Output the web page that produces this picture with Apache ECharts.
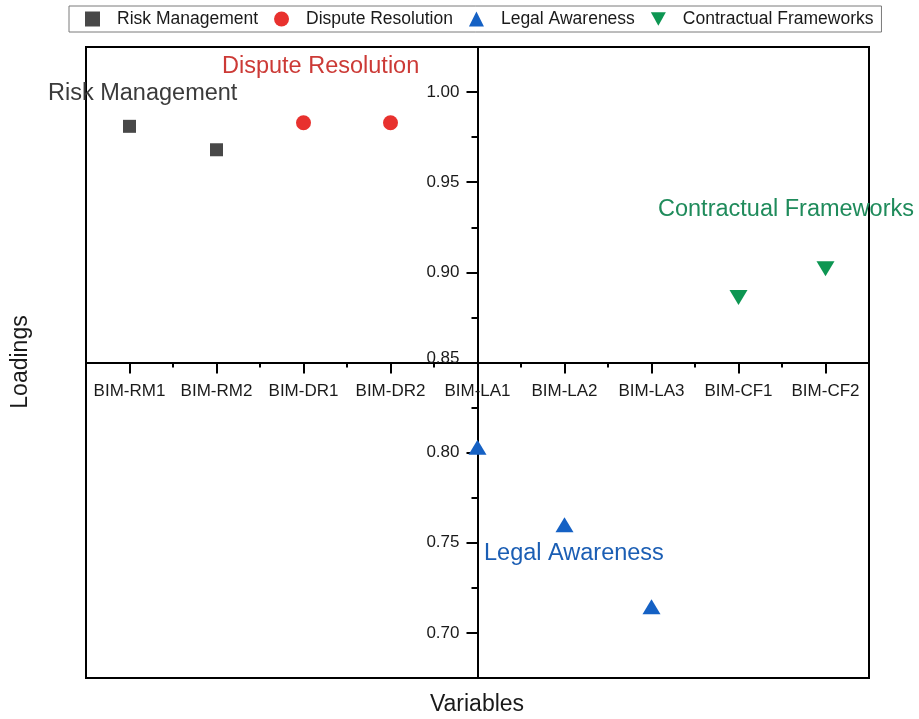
<!DOCTYPE html>
<html>
<head>
<meta charset="utf-8">
<script src="https://cdn.jsdelivr.net/npm/echarts@6/dist/echarts.min.js"></script>
<style>
  html, body { margin: 0; padding: 0; background: #ffffff; }
  #chart { width: 919px; height: 719px; }
</style>
</head>
<body>
<div id="chart"></div>
<script>
// Variables along the horizontal axis
const categories = ['BIM-RM1', 'BIM-RM2', 'BIM-DR1', 'BIM-DR2', 'BIM-LA1', 'BIM-LA2', 'BIM-LA3', 'BIM-CF1', 'BIM-CF2'];

// Factor loadings per construct
const riskManagement = [0.981, 0.968];          // BIM-RM1, BIM-RM2
const disputeResolution = [0.983, 0.983];       // BIM-DR1, BIM-DR2
const legalAwareness = [0.803, 0.760, 0.7145];  // BIM-LA1..LA3
const contractualFrameworks = [0.886, 0.902];   // BIM-CF1, BIM-CF2

// Vertical axis: labelled ticks, minor ticks and extent
const yTickLabels = ['0.70', '0.75', '0.80', '0.85', '0.90', '0.95', '1.00'];
const yMinorTicks = [0.725, 0.775, 0.825, 0.875, 0.925, 0.975];
const yExtent = [0.675, 1.025];
const yCross = 0.85;          // loading where the horizontal axis crosses
const crossCategory = 4;      // BIM-LA1 carries the vertical axis

const FONT = "'Liberation Sans', Arial, Helvetica, sans-serif";
const GRID = { left: 86, right: 50, top: 47, bottom: 41 };

const xExtent = [-0.5, categories.length - 0.5];
const xMajor = categories.map((_, i) => i);
const xMinor = categories.slice(1).map((_, i) => i + 0.5);
const yMajor = yTickLabels.map(Number);

function points(startIndex, values) {
  return values.map((v, i) => [startIndex + i, v]);
}

const el = document.getElementById('chart');
const chart = echarts.init(el, null, { renderer: 'canvas' });

// Axes cross inside the plot: shift them from the grid edges to the crossing point
const gridW = chart.getWidth() - GRID.left - GRID.right;
const gridH = chart.getHeight() - GRID.top - GRID.bottom;
const yAxisOffset = -gridW * (crossCategory - xExtent[0]) / (xExtent[1] - xExtent[0]);
const xAxisOffset = -gridH * (yCross - yExtent[0]) / (yExtent[1] - yExtent[0]);

function yLabel(v) {
  const text = v.toFixed(2);
  if (Math.abs(v - yCross) < 1e-9) return '{c|' + text + '}';
  return text;
}
function xLabel(v) {
  return categories[Math.round(v)] || '';
}

const lineStyle = { color: '#000000', width: 2 };
const tickStyle = { color: '#000000', width: 2 };

chart.setOption({
  animation: false,
  backgroundColor: '#ffffff',
  textStyle: { fontFamily: FONT },
  grid: {
    left: GRID.left, right: GRID.right, top: GRID.top, bottom: GRID.bottom,
    show: true, borderColor: '#000000', borderWidth: 2,
    backgroundColor: 'transparent'
  },
  legend: {
    left: 69, top: 6,
    orient: 'horizontal',
    padding: [4, 8, 4, 16],
    itemGap: 16,
    itemWidth: 15,
    itemHeight: 15,
    borderColor: '#7a7a7a',
    borderWidth: 1,
    textStyle: { fontSize: 17.5, color: '#1a1a1a', fontFamily: FONT, padding: [0, 0, 0, 12] },
    data: [
      { name: 'Risk Management', icon: 'rect' },
      { name: 'Dispute Resolution', icon: 'circle' },
      { name: 'Legal Awareness', icon: 'triangle' },
      { name: 'Contractual Frameworks', icon: 'path://M0,0 L10,0 L5,9 Z' }
    ]
  },
  xAxis: [
    {
      type: 'value', min: xExtent[0], max: xExtent[1], position: 'bottom', offset: xAxisOffset,
      axisLine: { show: true, onZero: false, lineStyle: lineStyle },
      axisTick: { show: true, length: 11, lineStyle: tickStyle, customValues: xMajor },
      axisLabel: { show: true, margin: 20, fontSize: 17, color: '#1a1a1a', fontFamily: FONT,
                   customValues: xMajor, formatter: xLabel },
      splitLine: { show: false }
    },
    {
      type: 'value', min: xExtent[0], max: xExtent[1], position: 'bottom', offset: xAxisOffset,
      axisLine: { show: false, onZero: false },
      axisTick: { show: true, length: 5, lineStyle: tickStyle, customValues: xMinor },
      axisLabel: { show: false },
      splitLine: { show: false }
    }
  ],
  yAxis: [
    {
      type: 'value', min: yExtent[0], max: yExtent[1], position: 'left', offset: yAxisOffset,
      axisLine: { show: true, onZero: false, lineStyle: lineStyle },
      axisTick: { show: true, length: 11, lineStyle: tickStyle, customValues: yMajor },
      axisLabel: {
        show: true, margin: 18, fontSize: 17, color: '#1a1a1a', fontFamily: FONT,
        customValues: yMajor, formatter: yLabel,
        rich: { c: { fontSize: 17, color: '#1a1a1a', fontFamily: FONT, padding: [0, 0, 9, 0] } }
      },
      splitLine: { show: false }
    },
    {
      type: 'value', min: yExtent[0], max: yExtent[1], position: 'left', offset: yAxisOffset,
      axisLine: { show: false, onZero: false },
      axisTick: { show: true, length: 6, lineStyle: tickStyle, customValues: yMinorTicks },
      axisLabel: { show: false },
      splitLine: { show: false }
    }
  ],
  series: [
    {
      name: 'Risk Management', type: 'scatter', xAxisIndex: 0, yAxisIndex: 0,
      symbol: 'rect', symbolSize: 13,
      itemStyle: { color: '#484848', opacity: 1 },
      data: points(0, riskManagement)
    },
    {
      name: 'Dispute Resolution', type: 'scatter', xAxisIndex: 0, yAxisIndex: 0,
      symbol: 'circle', symbolSize: 15,
      itemStyle: { color: '#e8312e', opacity: 1 },
      data: points(2, disputeResolution)
    },
    {
      name: 'Legal Awareness', type: 'scatter', xAxisIndex: 0, yAxisIndex: 0,
      symbol: 'triangle', symbolSize: [18, 15],
      itemStyle: { color: '#1561c4', opacity: 1 },
      data: points(4, legalAwareness)
    },
    {
      name: 'Contractual Frameworks', type: 'scatter', xAxisIndex: 0, yAxisIndex: 0,
      symbol: 'triangle', symbolRotate: 180, symbolSize: [18, 15],
      itemStyle: { color: '#0d9652', opacity: 1 },
      data: points(7, contractualFrameworks)
    }
  ],
  graphic: [
    { type: 'text', x: 48, y: 94, z: 10,
      style: { text: 'Risk Management', fill: '#3b3b3b', fontSize: 23.5, fontFamily: FONT, align: 'left', verticalAlign: 'middle', textAlign: 'left', textVerticalAlign: 'middle' } },
    { type: 'text', x: 222, y: 67, z: 10,
      style: { text: 'Dispute Resolution', fill: '#cc3a36', fontSize: 23.5, fontFamily: FONT, align: 'left', verticalAlign: 'middle', textAlign: 'left', textVerticalAlign: 'middle' } },
    { type: 'text', x: 658, y: 210, z: 10,
      style: { text: 'Contractual Frameworks', fill: '#1f8b5b', fontSize: 23.5, fontFamily: FONT, align: 'left', verticalAlign: 'middle', textAlign: 'left', textVerticalAlign: 'middle' } },
    { type: 'text', x: 484, y: 554, z: 10,
      style: { text: 'Legal Awareness', fill: '#1b5eb4', fontSize: 23.5, fontFamily: FONT, align: 'left', verticalAlign: 'middle', textAlign: 'left', textVerticalAlign: 'middle' } },
    { type: 'text', x: 477, y: 705, z: 10,
      style: { text: 'Variables', fill: '#1a1a1a', fontSize: 23, fontFamily: FONT, align: 'center', verticalAlign: 'middle', textAlign: 'center', textVerticalAlign: 'middle' } },
    { type: 'text', x: 21, y: 362, rotation: Math.PI / 2, z: 10,
      style: { text: 'Loadings', fill: '#1a1a1a', fontSize: 23, fontFamily: FONT, align: 'center', verticalAlign: 'middle', textAlign: 'center', textVerticalAlign: 'middle' } }
  ]
});
</script>
</body>
</html>
